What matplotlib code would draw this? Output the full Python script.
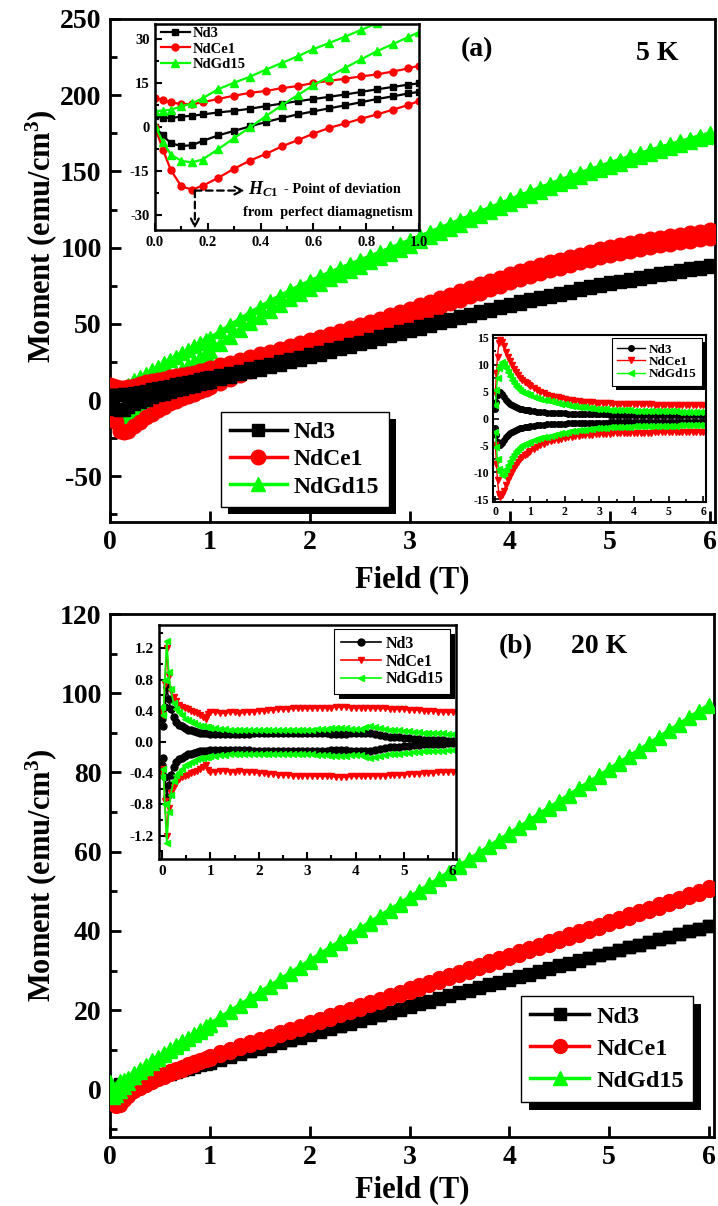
import matplotlib
matplotlib.use("Agg")
import matplotlib.pyplot as plt
from matplotlib.patches import Rectangle
from matplotlib.transforms import IdentityTransform
from matplotlib.ticker import MultipleLocator

plt.rcParams.update({
    "font.family": "Liberation Serif",
    "font.weight": "bold",
    "mathtext.fontset": "custom",
    "mathtext.rm": "Liberation Serif:bold",
    "mathtext.bf": "Liberation Serif:bold",
    "mathtext.it": "Liberation Serif:bold:italic",
    "axes.unicode_minus": False,
    "axes.linewidth": 2.0,
})

# ---------------------------------------------------------------- data
SAMPLES = ["Nd3", "NdCe1", "NdGd15"]
COLORS = ["black", "red", "#00ff00"]

FIELD = [0.0, 0.03, 0.06, 0.1, 0.14, 0.18, 0.24, 0.3, 0.36, 0.42, 0.48, 0.54,
         0.6, 0.66, 0.72, 0.78, 0.84, 0.9, 0.96, 1.0,
         1.1, 1.2, 1.3, 1.4, 1.5, 1.6, 1.7, 1.8, 1.9, 2.0,
         2.1, 2.2, 2.3, 2.4, 2.5, 2.6, 2.7, 2.8, 2.9, 3.0,
         3.1, 3.2, 3.3, 3.4, 3.5, 3.6, 3.7, 3.8, 3.9, 4.0,
         4.1, 4.2, 4.3, 4.4, 4.5, 4.6, 4.7, 4.8, 4.9, 5.0,
         5.1, 5.2, 5.3, 5.4, 5.5, 5.6, 5.7, 5.8, 5.9, 6.0]

# 5 K: mean of the two field branches and half their separation (emu/cm^3)
ND3_5K_MEAN = [1.8, 0.15, -1.25, -1.45, -1.2, -0.25, 1.05, 2.1, 3.2, 4.4, 5.5, 6.5,
               7.4, 8.3, 9.2, 10.15, 11.15, 12.0, 12.9, 13.4,
               15.0, 16.6, 18.1, 19.6, 21.1, 22.7, 24.3, 25.9, 27.4, 29.0,
               30.7, 32.4, 34.1, 35.8, 37.5, 39.2, 40.9, 42.6, 44.3, 46.0,
               47.7, 49.3, 51.0, 52.6, 54.3, 55.9, 57.6, 59.2, 60.9, 62.5,
               64.0, 65.4, 66.9, 68.3, 69.8, 71.2, 72.6, 74.0, 75.3, 76.6,
               77.8, 79.0, 80.2, 81.4, 82.5, 83.6, 84.7, 85.8, 86.9, 88.0]
ND3_5K_HALF = [1.8, 3.0, 4.3, 5.0, 5.0, 4.5, 3.9, 3.4, 3.0, 2.7, 2.45, 2.25,
               2.1, 1.95, 1.85, 1.75, 1.65, 1.6, 1.5, 1.45,
               1.35, 1.27, 1.2, 1.15, 1.1, 1.06, 1.02, 0.99, 0.96, 0.93,
               0.91, 0.89, 0.87, 0.85, 0.83, 0.82, 0.8, 0.79, 0.78, 0.77,
               0.76, 0.75, 0.74, 0.73, 0.72, 0.71, 0.7, 0.7, 0.69, 0.68,
               0.68, 0.67, 0.67, 0.66, 0.66, 0.65, 0.65, 0.64, 0.64, 0.63,
               0.63, 0.62, 0.62, 0.61, 0.61, 0.6, 0.6, 0.59, 0.59, 0.58]
NDCE1_5K_MEAN = [4.95, 0.8, -3.15, -6.2, -6.75, -5.8, -3.85, -1.75, 0.1, 1.55, 3.3, 4.7,
                 6.35, 7.7, 8.8, 10.0, 11.05, 12.35, 13.7, 14.85,
                 17.1, 19.3, 21.4, 23.5, 25.5, 27.5, 29.5, 31.5, 33.5, 35.5,
                 37.6, 39.7, 41.8, 43.9, 46.0, 48.2, 50.4, 52.6, 54.8, 57.0,
                 59.3, 61.6, 63.9, 66.2, 68.5, 70.8, 73.1, 75.4, 77.7, 80.0,
                 82.0, 84.0, 85.9, 87.7, 89.5, 91.2, 92.9, 94.6, 96.3, 98.0,
                 99.3, 100.6, 101.8, 103.0, 104.1, 105.1, 106.1, 107.1, 108.0, 108.9]
NDCE1_5K_HALF = [4.9, 8.5, 11.5, 14.0, 14.5, 14.2, 13.4, 12.4, 11.5, 10.7, 9.9, 9.2,
                 8.6, 8.0, 7.6, 7.2, 6.8, 6.5, 6.2, 6.0,
                 5.6, 5.25, 4.95, 4.7, 4.45, 4.25, 4.05, 3.9, 3.75, 3.6,
                 3.5, 3.4, 3.3, 3.2, 3.15, 3.1, 3.05, 3.0, 2.95, 2.9,
                 2.87, 2.84, 2.81, 2.78, 2.76, 2.74, 2.72, 2.7, 2.68, 2.66,
                 2.64, 2.63, 2.62, 2.61, 2.6, 2.59, 2.58, 2.57, 2.56, 2.55,
                 2.54, 2.53, 2.52, 2.52, 2.51, 2.5, 2.5, 2.49, 2.49, 2.48]
NDGD15_5K_MEAN = [2.9, 0.25, -1.75, -2.25, -2.0, -0.65, 2.7, 5.65, 8.5, 11.6, 14.55, 17.4,
                  20.35, 22.85, 25.4, 27.95, 30.5, 32.65, 35.0, 36.5,
                  41.0, 45.4, 49.7, 53.9, 57.9, 61.8, 65.5, 69.0, 72.4, 75.6,
                  78.6, 81.5, 84.3, 87.0, 89.7, 92.4, 95.1, 97.8, 100.5, 103.2,
                  105.9, 108.6, 111.3, 114.0, 116.7, 119.4, 122.1, 124.8, 127.5, 130.2,
                  132.8, 135.4, 138.0, 140.5, 143.0, 145.4, 147.7, 150.0, 152.2, 154.4,
                  156.5, 158.6, 160.6, 162.6, 164.6, 166.5, 168.4, 170.3, 172.2, 174.0]
NDGD15_5K_HALF = [2.5, 5.3, 7.6, 9.3, 10.0, 10.4, 10.2, 9.4, 8.6, 7.9, 7.2, 6.6,
                  6.1, 5.7, 5.3, 5.0, 4.75, 4.55, 4.4, 4.3,
                  4.05, 3.85, 3.65, 3.5, 3.35, 3.2, 3.05, 2.9, 2.75, 2.6,
                  2.5, 2.4, 2.3, 2.2, 2.1, 2.05, 2.0, 1.9, 1.85, 1.8,
                  1.75, 1.7, 1.67, 1.64, 1.6, 1.57, 1.55, 1.52, 1.5, 1.48,
                  1.46, 1.44, 1.42, 1.4, 1.38, 1.37, 1.35, 1.34, 1.33, 1.32,
                  1.31, 1.3, 1.29, 1.28, 1.27, 1.26, 1.25, 1.25, 1.24, 1.24]

# 20 K
ND3_20K_MEAN = [0.3, 0.1, 0.3, 0.6, 0.9, 1.2, 1.6, 2.0, 2.4, 2.9, 3.3, 3.7,
                4.1, 4.5, 5.0, 5.4, 5.8, 6.2, 6.6, 6.9,
                7.6, 8.3, 9.0, 9.7, 10.4, 11.1, 11.8, 12.5, 13.2, 13.9,
                14.6, 15.3, 16.0, 16.7, 17.4, 18.1, 18.8, 19.5, 20.2, 20.9,
                21.6, 22.3, 23.0, 23.7, 24.4, 25.0, 25.7, 26.4, 27.1, 27.8,
                28.5, 29.1, 29.8, 30.5, 31.2, 31.8, 32.5, 33.2, 33.9, 34.5,
                35.2, 35.9, 36.5, 37.2, 37.9, 38.5, 39.2, 39.9, 40.5, 41.2]
ND3_20K_HALF = [0.3, 0.2, 0.45, 0.7, 0.55, 0.42, 0.32, 0.26, 0.22, 0.2, 0.18, 0.16,
                0.15, 0.14, 0.13, 0.12, 0.12, 0.11, 0.11, 0.1,
                0.1, 0.1, 0.1, 0.1, 0.1, 0.1, 0.1, 0.1, 0.11, 0.11,
                0.11, 0.11, 0.11, 0.11, 0.11, 0.11, 0.11, 0.11, 0.11, 0.11,
                0.11, 0.11, 0.11, 0.11, 0.1, 0.1, 0.1, 0.1, 0.11, 0.11,
                0.11, 0.12, 0.11, 0.1, 0.09, 0.08, 0.07, 0.06, 0.06, 0.05,
                0.05, 0.04, 0.04, 0.03, 0.03, 0.02, 0.02, 0.02, 0.01, 0.01]
NDCE1_20K_MEAN = [-1.0, -3.0, -3.5, -2.8, -1.8, -0.9, 0.2, 1.0, 1.7, 2.4, 3.0, 3.6,
                  4.2, 4.8, 5.4, 6.0, 6.6, 7.2, 7.7, 8.1,
                  9.0, 9.9, 10.8, 11.6, 12.4, 13.2, 14.0, 14.9, 15.7, 16.6,
                  17.4, 18.3, 19.1, 20.0, 20.8, 21.7, 22.5, 23.4, 24.2, 25.1,
                  25.9, 26.8, 27.6, 28.5, 29.3, 30.2, 31.0, 31.9, 32.7, 33.6,
                  34.4, 35.3, 36.1, 37.0, 37.8, 38.7, 39.5, 40.4, 41.2, 42.1,
                  42.9, 43.8, 44.6, 45.5, 46.3, 47.2, 48.0, 48.9, 49.7, 50.6]
NDCE1_20K_HALF = [0.4, 0.35, 0.75, 1.2, 0.85, 0.65, 0.58, 0.52, 0.48, 0.45, 0.44, 0.42,
                  0.4, 0.39, 0.37, 0.35, 0.32, 0.3, 0.36, 0.38,
                  0.38, 0.37, 0.37, 0.38, 0.38, 0.37, 0.38, 0.39, 0.39, 0.4,
                  0.4, 0.41, 0.41, 0.42, 0.42, 0.42, 0.43, 0.43, 0.43, 0.43,
                  0.43, 0.44, 0.44, 0.44, 0.44, 0.45, 0.45, 0.45, 0.44, 0.44,
                  0.44, 0.44, 0.43, 0.43, 0.43, 0.43, 0.42, 0.42, 0.42, 0.42,
                  0.41, 0.41, 0.41, 0.4, 0.4, 0.4, 0.39, 0.39, 0.38, 0.38]
NDGD15_20K_MEAN = [1.5, -1.5, -0.5, 0.8, 1.6, 2.3, 3.6, 4.8, 5.9, 7.0, 8.0, 9.0,
                   10.0, 11.0, 12.0, 12.9, 13.9, 14.8, 15.8, 16.4,
                   18.0, 19.6, 21.2, 22.8, 24.4, 26.0, 27.6, 29.2, 30.8, 32.4,
                   34.0, 35.6, 37.2, 38.8, 40.4, 42.0, 43.6, 45.2, 46.8, 48.4,
                   50.0, 51.6, 53.2, 54.8, 56.4, 58.0, 59.6, 61.3, 62.9, 64.5,
                   66.1, 67.7, 69.4, 71.0, 72.6, 74.2, 75.9, 77.5, 79.1, 80.7,
                   82.4, 84.0, 85.6, 87.2, 88.9, 90.5, 92.1, 93.8, 95.4, 97.0]
NDGD15_20K_HALF = [0.45, 0.35, 0.8, 1.3, 0.9, 0.68, 0.5, 0.42, 0.38, 0.34, 0.3, 0.28,
                   0.26, 0.24, 0.22, 0.21, 0.2, 0.19, 0.19, 0.18,
                   0.18, 0.17, 0.17, 0.16, 0.16, 0.16, 0.16, 0.15, 0.15, 0.15,
                   0.15, 0.15, 0.15, 0.15, 0.15, 0.15, 0.16, 0.16, 0.16, 0.16,
                   0.16, 0.17, 0.17, 0.17, 0.18, 0.18, 0.18, 0.18, 0.17, 0.17,
                   0.17, 0.19, 0.2, 0.19, 0.18, 0.17, 0.16, 0.15, 0.15, 0.14,
                   0.14, 0.13, 0.13, 0.12, 0.12, 0.12, 0.11, 0.11, 0.1, 0.1]

MEANS_5K = [ND3_5K_MEAN, NDCE1_5K_MEAN, NDGD15_5K_MEAN]
HALVES_5K = [ND3_5K_HALF, NDCE1_5K_HALF, NDGD15_5K_HALF]
MEANS_20K = [ND3_20K_MEAN, NDCE1_20K_MEAN, NDGD15_20K_MEAN]
HALVES_20K = [ND3_20K_HALF, NDCE1_20K_HALF, NDGD15_20K_HALF]

MAIN_MARKERS = ["s", "o", "^"]
INSET_MARKERS = ["o", "v", "<"]

W, H = 718, 1206
fig = plt.figure(figsize=(W / 100, H / 100), dpi=100)


def frac(left, top, right, bottom):
    return [left / W, 1 - bottom / H, (right - left) / W, (bottom - top) / H]


def loop(mean, half):
    up_sweep = [m - h for m, h in zip(mean, half)]
    down_sweep = [m + h for m, h in zip(mean, half)]
    return FIELD + FIELD[::-1], up_sweep + down_sweep[::-1]


def style(ax, size, major, minor, length=8, width=2.0, pad=7):
    ax.tick_params(which="both", direction="in", top=False, right=False, width=width)
    ax.tick_params(which="major", length=length, labelsize=size, pad=pad)
    ax.tick_params(which="minor", length=length * 0.6)
    ax.yaxis.set_major_locator(MultipleLocator(major))
    if minor:
        ax.yaxis.set_minor_locator(MultipleLocator(minor))


def shadow(ax, leg, off):
    fig.canvas.draw()
    bb = leg.get_frame().get_window_extent()
    ax.add_artist(Rectangle((bb.x0 + off, bb.y0 - off), bb.width, bb.height,
                            transform=IdentityTransform(), facecolor="black",
                            edgecolor="none", zorder=leg.get_zorder() - 0.1,
                            clip_on=False))


def main_panel(rect, means, halves, ylim, ymaj, ymin, order, sizes):
    ax = fig.add_axes(rect)
    handles = [None] * 3
    for i in order:
        x, y = loop(means[i], halves[i])
        handles[i], = ax.plot(x, y, color=COLORS[i], marker=MAIN_MARKERS[i],
                              ms=sizes[i], lw=2.5, mec=COLORS[i], label=SAMPLES[i],
                              zorder=2 + order.index(i))
    ax.set_xlim(0, 6.05)
    ax.set_ylim(*ylim)
    ax.set_xticks(range(7))
    style(ax, 20, ymaj, ymin, length=8, pad=6)
    return ax, handles


def add_legend(ax, handles, anchor, size, spacing, hlen, off, lw=1.0):
    leg = ax.legend(handles, SAMPLES, loc="upper left", bbox_to_anchor=anchor,
                    borderaxespad=0, fancybox=False, edgecolor="black", framealpha=1,
                    prop={"family": "Liberation Serif", "weight": "bold", "size": size},
                    handlelength=hlen, handletextpad=0.3, labelspacing=spacing,
                    borderpad=0.4, numpoints=1)
    leg.get_frame().set_linewidth(lw)
    leg.set_zorder(10)
    if off:
        shadow(ax, leg, off)
    return leg


# ---------------------------------------------------------------- panel (a): 5 K
ax_a, h_a = main_panel(frac(110, 19, 715, 522), MEANS_5K, HALVES_5K,
                       (-80, 250), 50, 25, [2, 1, 0], [9, 10.5, 10.5])
add_legend(ax_a, h_a, (0.183, 0.219), 17, 0.25, 2.4, 7)
ax_a.text(0.607, 0.940, "(a)", transform=ax_a.transAxes, fontsize=20,
          ha="center", va="center")
ax_a.text(0.904, 0.932, "5 K", transform=ax_a.transAxes, fontsize=20,
          ha="center", va="center")

# inset: low-field part of both sweeps
ins1 = fig.add_axes(frac(155, 24, 419, 230))
for i in range(3):
    x, y = loop(MEANS_5K[i], HALVES_5K[i])
    ins1.plot(x, y, color=COLORS[i], marker=MAIN_MARKERS[i], ms=[4, 5, 5.5][i],
              lw=1.6, mec=COLORS[i], label=SAMPLES[i])
ins1.set_xlim(0, 1.0)
ins1.set_ylim(-35, 35)
ins1.set_yticks([-30, -15, 0, 15, 30])
ins1.xaxis.set_major_locator(MultipleLocator(0.2))
ins1.xaxis.set_minor_locator(MultipleLocator(0.1))
style(ins1, 10.5, 15, 7.5, length=5, width=1.5, pad=4)
for sp in ins1.spines.values():
    sp.set_linewidth(1.8)
ins1.legend(loc="upper left", bbox_to_anchor=(0.01, 1.0), frameon=False,
            prop={"family": "Liberation Serif", "weight": "bold", "size": 10.5},
            handlelength=2.0, handletextpad=0.2, labelspacing=0.15,
            borderpad=0.2, borderaxespad=0)
ins1.annotate("", xy=(0.34, -21.6), xytext=(0.151, -21.6),
              arrowprops=dict(arrowstyle="->", ls=(0, (3, 2)), lw=1.6, color="black",
                              shrinkA=0, shrinkB=0, mutation_scale=14))
ins1.annotate("", xy=(0.151, -34.6), xytext=(0.151, -21.6),
              arrowprops=dict(arrowstyle="->", ls=(0, (3, 2)), lw=1.6, color="black",
                              shrinkA=0, shrinkB=0, mutation_scale=14))
ins1.text(0.352, -21.2, r"$\mathit{H}_{\mathit{C1}}$", fontsize=13, ha="left", va="center")
ins1.text(0.49, -21.2, "- Point of deviation", fontsize=10.3, ha="left", va="center")
ins1.text(0.333, -29.0, "from  perfect diamagnetism", fontsize=10.3, ha="left", va="center")

# inset: half-width of the loop
ins2 = fig.add_axes(frac(493, 335, 706, 502))
lines2 = []
for i in range(3):
    ln, = ins2.plot(FIELD, HALVES_5K[i], color=COLORS[i], marker=INSET_MARKERS[i],
                    ms=4, lw=1.0, mec=COLORS[i])
    ins2.plot(FIELD, [-v for v in HALVES_5K[i]], color=COLORS[i],
              marker=INSET_MARKERS[i], ms=4, lw=1.0, mec=COLORS[i])
    lines2.append(ln)
ins2.set_xlim(-0.07, 6.08)
ins2.set_ylim(-15.5, 15.5)
ins2.set_xticks(range(7))
ins2.xaxis.set_minor_locator(MultipleLocator(0.5))
style(ins2, 8.5, 5, 2.5, length=4, width=1.2, pad=3)
for sp in ins2.spines.values():
    sp.set_linewidth(1.5)
add_legend(ins2, lines2, (0.558, 0.98), 9.5, 0.0, 2.1, 4, lw=0.8)

# ---------------------------------------------------------------- panel (b): 20 K
ax_b, h_b = main_panel(frac(110, 614, 714, 1137), MEANS_20K, HALVES_20K,
                       (-12, 120), 20, 10, [0, 1, 2], [8.5, 10, 10])
add_legend(ax_b, h_b, (0.68, 0.270), 17.5, 0.42, 2.4, 8)
ax_b.text(0.671, 0.937, "(b)", transform=ax_b.transAxes, fontsize=20,
          ha="center", va="center")
ax_b.text(0.810, 0.937, "20 K", transform=ax_b.transAxes, fontsize=20,
          ha="center", va="center")

ins3 = fig.add_axes(frac(159, 625, 456, 859))
lines3 = []
for i in range(3):
    ln, = ins3.plot(FIELD, HALVES_20K[i], color=COLORS[i], marker=INSET_MARKERS[i],
                    ms=5, lw=1.2, mec=COLORS[i])
    ins3.plot(FIELD, [-v for v in HALVES_20K[i]], color=COLORS[i],
              marker=INSET_MARKERS[i], ms=5, lw=1.2, mec=COLORS[i])
    lines3.append(ln)
ins3.set_xlim(-0.06, 6.07)
ins3.set_ylim(-1.5, 1.5)
ins3.set_xticks(range(7))
ins3.xaxis.set_minor_locator(MultipleLocator(0.5))
style(ins3, 11, 0.4, 0.2, length=5, width=1.5, pad=4)
ins3.set_yticks([-1.2, -0.8, -0.4, 0.0, 0.4, 0.8, 1.2])
for sp in ins3.spines.values():
    sp.set_linewidth(1.8)
add_legend(ins3, lines3, (0.59, 0.982), 11.5, 0.12, 2.5, 5, lw=0.8)

# ---------------------------------------------------------------- axis titles
for yc in (236, 875):
    fig.text(41 / W, 1 - yc / H, r"Moment (emu/cm$^{3}$)", rotation=90,
             fontsize=22, ha="center", va="center")
for yc in (580, 1190):
    fig.text(412 / W, 1 - yc / H, "Field (T)", fontsize=22, ha="center", va="center")

fig.savefig("out.png", dpi=100)
